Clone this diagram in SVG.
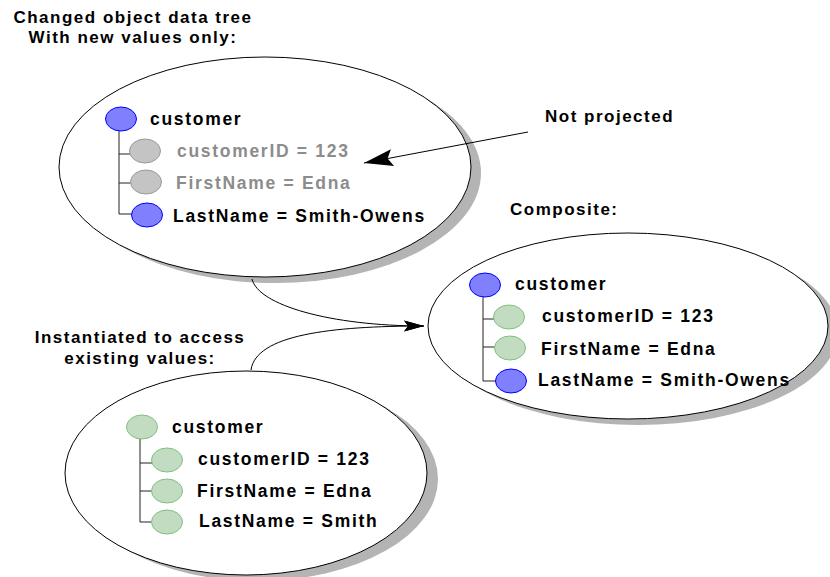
<svg xmlns="http://www.w3.org/2000/svg" width="830" height="577" viewBox="0 0 830 577">
<style>
text{font-family:"Liberation Sans",Arial,sans-serif;font-weight:bold;fill:#000}
.lbl{font-size:17px;letter-spacing:1.5px}
.mid{text-anchor:middle}
.nt{font-size:17.5px;letter-spacing:1.7px}
.gt{fill:#8c8c8c}
.big{fill:#fff;stroke:#000;stroke-width:1}
.shadow{fill:#b4b4b4;stroke:none}
.blue{fill:#8080ff;stroke:#0000ff;stroke-width:1}
.gray{fill:#c4c4c4;stroke:#9a9a9a;stroke-width:1}
.green{fill:#c2dcc2;stroke:#80c080;stroke-width:1}
.tree{fill:none;stroke:#222;stroke-width:1}
.conn{fill:none;stroke:#000;stroke-width:1}
</style>
<defs>
<marker id="bigArrow" markerUnits="userSpaceOnUse" markerWidth="40" markerHeight="24" viewBox="-32 -12 34 24" refX="0" refY="0" orient="auto" overflow="visible">
<path d="M0,0 L-29,-8.5 L-24,0 L-29,8.5 Z" fill="#000"/>
</marker>
<marker id="smallArrow" markerUnits="userSpaceOnUse" markerWidth="26" markerHeight="16" viewBox="-22 -8 24 16" refX="0" refY="0" orient="auto" overflow="visible">
<path d="M0,0 L-20,-5.5 L-16,0 L-20,5.5 Z" fill="#000"/>
</marker>
</defs>

<g id="title-changed">
<text class="lbl mid" x="133" y="23">Changed object data tree</text>
<text class="lbl mid" x="133" y="43">With new values only:</text>
</g>

<g id="changed-tree">
<ellipse class="shadow" cx="275" cy="173" rx="206" ry="110"/>
<ellipse class="big" cx="265" cy="167" rx="206" ry="110"/>
<path class="tree" d="M119,131 V214 H132 M119,154 H131 M119,183 H131"/>
<ellipse class="blue" cx="121" cy="119" rx="15.5" ry="12"/>
<ellipse class="gray" cx="145" cy="151" rx="15.5" ry="12"/>
<ellipse class="gray" cx="146" cy="182" rx="15.5" ry="12"/>
<ellipse class="blue" cx="147" cy="215" rx="15.5" ry="12"/>
<text class="nt" x="150" y="125">customer</text>
<text class="nt gt" x="177" y="157">customerID = 123</text>
<text class="nt gt" x="176" y="189">FirstName = Edna</text>
<text class="nt" x="173" y="222">LastName = Smith-Owens</text>
</g>

<g id="label-not-projected">
<text class="lbl" x="545" y="122">Not projected</text>
</g>

<g id="label-composite">
<text class="lbl" x="510" y="215">Composite:</text>
</g>

<g id="composite-tree">
<ellipse class="shadow" cx="638" cy="332" rx="200" ry="93"/>
<ellipse class="big" cx="628" cy="326" rx="200" ry="93"/>
<path class="tree" d="M483,296 V381 H496 M483,319 H495 M483,347 H495"/>
<ellipse class="blue" cx="485" cy="285" rx="15.5" ry="12"/>
<ellipse class="green" cx="509" cy="317" rx="15.5" ry="12"/>
<ellipse class="green" cx="510" cy="348" rx="15.5" ry="12"/>
<ellipse class="blue" cx="511" cy="381" rx="15.5" ry="12"/>
<text class="nt" x="515" y="290">customer</text>
<text class="nt" x="542" y="322">customerID = 123</text>
<text class="nt" x="541" y="355">FirstName = Edna</text>
<text class="nt" x="538" y="386">LastName = Smith-Owens</text>
</g>

<g id="label-instantiated">
<text class="lbl mid" x="140" y="343">Instantiated to access</text>
<text class="lbl mid" x="140" y="364">existing values:</text>
</g>

<g id="existing-tree">
<ellipse class="shadow" cx="257" cy="479" rx="181" ry="102"/>
<ellipse class="big" cx="246" cy="473" rx="181" ry="102"/>
<path class="tree" d="M140,438 V522 H153 M140,463 H152 M140,491 H152"/>
<ellipse class="green" cx="142" cy="427" rx="15.5" ry="12"/>
<ellipse class="green" cx="167" cy="460" rx="15.5" ry="12"/>
<ellipse class="green" cx="167" cy="491" rx="15.5" ry="12"/>
<ellipse class="green" cx="167" cy="522" rx="15.5" ry="12"/>
<text class="nt" x="172" y="433">customer</text>
<text class="nt" x="198" y="465">customerID = 123</text>
<text class="nt" x="197" y="497">FirstName = Edna</text>
<text class="nt" x="199" y="527">LastName = Smith</text>
</g>

<g id="connectors">
<path class="conn" d="M528,132 L364,163" marker-end="url(#bigArrow)"/>
<path class="conn" d="M252,279 C258,305 330,326 424,326" marker-end="url(#smallArrow)"/>
<path class="conn" d="M251,370 C256,335 330,326 424,326" marker-end="url(#smallArrow)"/>
</g>
</svg>
